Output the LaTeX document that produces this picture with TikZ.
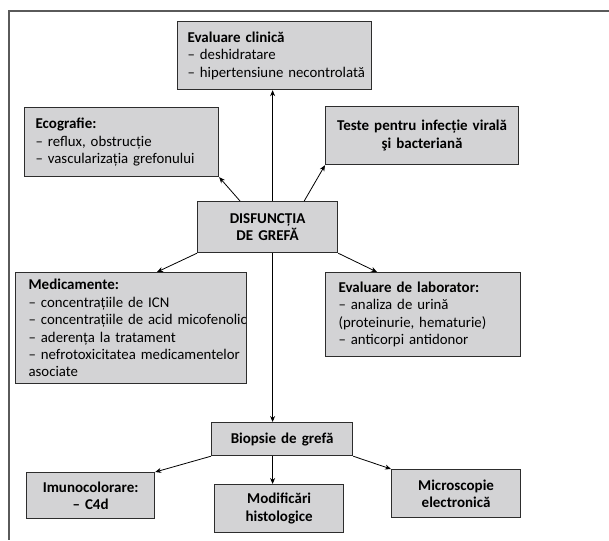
\documentclass[tikz,border=0pt]{standalone}
\usepackage{fontspec}
\setmainfont{Carlito}
\usetikzlibrary{arrows.meta,calc}
\definecolor{boxfill}{RGB}{211,211,213}
\definecolor{boxline}{RGB}{45,45,45}
\definecolor{framecol}{RGB}{90,90,90}
\begin{document}
\begin{tikzpicture}[x=1pt,y=-1pt,
  box/.style={draw=boxline, line width=1.2pt, fill=boxfill, inner sep=0pt, anchor=north west,
    font=\fontsize{14.8}{17.4}\selectfont, text=black},
  lbox/.style={box, align=left},
  cbox/.style={box, align=center, font=\fontsize{15}{17.4}\selectfont\bfseries},
  arr/.style={draw=black, line width=0.8pt, -{Stealth[length=6pt,width=5pt]}}]
\useasboundingbox (0,0) rectangle (609,540);
% frame
\coordinate (ftl) at (9,11);
\coordinate (ftr) at (609,11);
\coordinate (fbl) at (9,540);
\draw[framecol, line width=1.4pt] (ftr) -- (ftl) -- (fbl);
% boxes
\node[lbox, minimum width=194pt, minimum height=68pt, text width=174pt] (clin) at (177,21)
  {\mbox{\bfseries\fontsize{15}{17.4}\selectfont Evaluare clinică}\\\mbox{– deshidratare}\\\mbox{– hipertensiune necontrolată}};
\node[lbox, minimum width=194pt, minimum height=69pt, text width=172pt] (eco) at (24,107)
  {\mbox{\bfseries\fontsize{15}{17.4}\selectfont Ecografie:}\\\mbox{– reflux, obstrucție}\\\mbox{– vascularizația grefonului}};
\node[cbox, minimum width=193pt, minimum height=58pt, text width=185pt] (test) at (325,106)
  {Teste pentru infecție virală\\şi bacteriană};
\node[cbox, minimum width=140pt, minimum height=51pt, text width=130pt] (dis) at (197,201)
  {DISFUNCȚIA\\DE GREFĂ};
\node[lbox, minimum width=231pt, minimum height=111pt, text width=205pt] (med) at (15,272)
  {\mbox{\bfseries\fontsize{15}{17.4}\selectfont Medicamente:}\\\mbox{– concentrațiile de ICN}\\\mbox{– concentrațiile de acid micofenolic}\\\mbox{– aderența la tratament}\\\mbox{– nefrotoxicitatea medicamentelor}\\\mbox{asociate}};
\node[lbox, minimum width=195pt, minimum height=84pt, text width=169pt] (lab) at (325,272)
  {\mbox{\bfseries\fontsize{15}{17.4}\selectfont Evaluare de laborator:}\\\mbox{– analiza de urină}\\\mbox{(proteinurie, hematurie)}\\\mbox{– anticorpi antidonor}};
\node[cbox, minimum width=141pt, minimum height=33pt, text width=135pt] (bio) at (211,422)
  {Biopsie de grefă};
\node[cbox, minimum width=128pt, minimum height=46pt, text width=120pt] (imu) at (26,472)
  {Imunocolorare:\\– C4d};
\node[cbox, minimum width=129pt, minimum height=48pt, text width=120pt] (mod) at (214,484)
  {Modificări\\histologice};
\node[cbox, minimum width=129pt, minimum height=48pt, text width=120pt] (mic) at (391,469)
  {Microscopie\\electronică};
% connectors
\draw[arr] ([xshift=5pt]dis.north) -- ([xshift=5pt]dis.north |- clin.south);
\draw[arr] ([xshift=5pt]dis.south) -- ([xshift=5pt]dis.south |- bio.north);
\draw[arr] ([xshift=43pt]dis.north west) -- (eco.south east);
\draw[arr] ([xshift=-34pt]dis.north east) -- (test.south west);
\draw[arr] (dis.south west) -- ([xshift=142pt]med.north west);
\draw[arr] (dis.south east) -- ([xshift=52pt]lab.north west);
\draw[arr] (bio.south west) -- (imu.north east);
\draw[arr] ([xshift=-9.5pt]bio.south) -- ([xshift=-9.5pt]bio.south |- mod.north);
\draw[arr] (bio.south east) -- (mic.north west);
\end{tikzpicture}
\end{document}
